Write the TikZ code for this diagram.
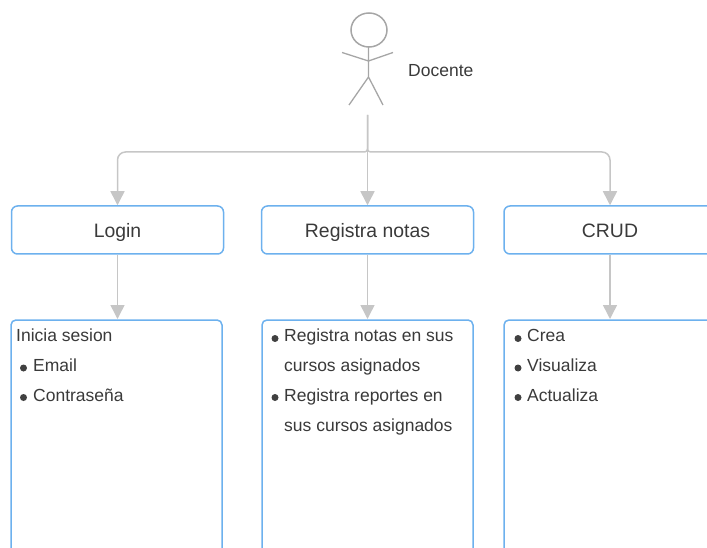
\documentclass[tikz,border=0pt]{standalone}
\usepackage{fontspec}
\setmainfont{Liberation Sans}
\usetikzlibrary{arrows.meta}
\definecolor{bluebox}{HTML}{6DB1EE}
\definecolor{greyline}{HTML}{C6C6C6}
\definecolor{actor}{HTML}{A6A6A6}
\definecolor{txt}{HTML}{3A3A3A}
\tikzset{x=1pt,y=-1pt,
 header/.style={draw=bluebox,line width=1.5pt,rounded corners=6pt,minimum height=48pt,text height=15pt,text depth=0pt,text=txt,font=\fontsize{19.4}{22}\selectfont,inner sep=0pt,fill=white},
 body/.style={draw=bluebox,line width=1.5pt,rounded corners=5pt,fill=white},
 txtl/.style={anchor=base west,text=txt,font=\fontsize{17.5}{20}\selectfont,inner sep=0pt},
 dot/.style={circle,fill=black!75,inner sep=0pt,minimum size=7pt},
 conn/.style={draw=greyline,line width=1.5pt},
 arr/.style={-{Triangle[length=14pt,width=14pt,fill=greyline]}},
 fig/.style={draw=actor,line width=1.5pt}}
\begin{document}
\begin{tikzpicture}
\useasboundingbox (0,0) rectangle (707,548);
\clip (0,0) rectangle (707,548);
% actor
\draw[fig] (369,30) ellipse [x radius=18,y radius=17];
\draw[fig,line width=1.3pt] (368.5,47) -- (368.5,77) (342,52.5) -- (368.5,61) -- (393,52.5) (368.5,77) -- (349,105) (368.5,77) -- (383,105);
\node[txtl] (doc) at (408,77) {Docente};
\coordinate (actorfoot) at (367.5,115);
\coordinate (hub) at (367.5,152);
% headers
\node[header,minimum width=212pt] (login) at (117.5,230) {Login};
\node[header,minimum width=212pt] (reg) at (367.5,230) {Registra notas};
\node[header,minimum width=212pt] (crud) at (610,230) {CRUD};
% bodies
\draw[body] (11,570) -- (11,320) -- (222,320) -- (222,570);
\coordinate (b1) at (117.5,319);
\draw[body] (262,570) -- (262,320) -- (473,320) -- (473,570);
\coordinate (b2) at (367.5,319);
\draw[body] (504,570) -- (504,320) -- (715,320) -- (715,570);
\coordinate (b3) at (610,319);
% connectors
\draw[conn,arr] (actorfoot) [rounded corners=3pt] -- (hub) [rounded corners=8pt] -| (login.north);
\draw[conn,arr] (actorfoot) -- (reg.north);
\draw[conn,arr] (actorfoot) [rounded corners=3pt] -- (hub) [rounded corners=8pt] -| (crud.north);
\draw[conn,arr] (login.south) -- (b1);
\draw[conn,arr] (reg.south) -- (b2);
\draw[conn,arr] (crud.south) -- (b3);
% texts
\node[txtl] (t1) at (16,341) {Inicia sesion};
\node[dot] (d1) at (23.5,368) {}; \node[txtl] (t2) at (33,371) {Email};
\node[dot] (d2) at (23.5,397.5) {}; \node[txtl] (t3) at (33,401) {Contraseña};
\node[dot] (d3) at (275,338.5) {}; \node[txtl] (t4) at (284,341) {Registra notas en sus};
\node[txtl] (t5) at (284,371) {cursos asignados};
\node[dot] (d4) at (275,397.5) {}; \node[txtl] (t6) at (284,401) {Registra reportes en};
\node[txtl] (t7) at (284,431) {sus cursos asignados};
\node[dot] (d5) at (518,338.5) {}; \node[txtl] (t8) at (527,341) {Crea};
\node[dot] (d6) at (518,368) {}; \node[txtl] (t9) at (527,371) {Visualiza};
\node[dot] (d7) at (518,397.5) {}; \node[txtl] (t10) at (527,401) {Actualiza};
\end{tikzpicture}
\end{document}
